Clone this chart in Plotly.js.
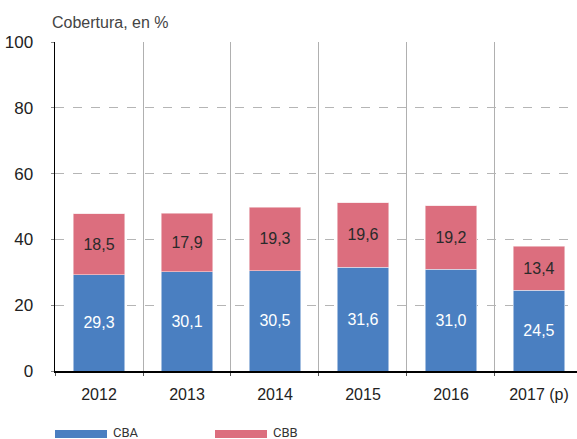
<!DOCTYPE html>
<html><head><meta charset="utf-8">
<script src="https://cdn.plot.ly/plotly-3.0.1.min.js"></script>
<style>html,body{margin:0;padding:0;background:#fff}</style>
</head><body><div id="chart" style="width:577px;height:439px"></div>
<script>
const categories = ["2012","2013","2014","2015","2016","2017 (p)"];
const cba = [29.3, 30.1, 30.5, 31.6, 31.0, 24.5];
const cbb = [18.5, 17.9, 19.3, 19.6, 19.2, 13.4];
const seriesNames = ["CBA","CBB"];
const yTicks = [0,20,40,60,80,100];

const blue = "#4a7fc1", pink = "#dc6e7e";
const font = "Liberation Sans, Arial, sans-serif";
const narrow = "Liberation Sans Narrow, Roboto, Liberation Sans, sans-serif";

const traces = [
  {type:"bar", name:seriesNames[0], x:categories, y:cba, marker:{color:blue, line:{color:"#dfe8f5", width:0.6}},
   texttemplate:"%{y:.1f}", textposition:"inside", insidetextanchor:"middle",
   textfont:{color:"#ffffff", size:16, family:font}, hoverinfo:"skip"},
  {type:"bar", name:seriesNames[1], x:categories, y:cbb, marker:{color:pink, line:{color:"#f5dde1", width:0.6}},
   texttemplate:"%{y:.1f}", textposition:"inside", insidetextanchor:"middle",
   textfont:{color:"#2a2a2a", size:16, family:font}, hoverinfo:"skip"}
];

const legY = -0.1915, legH = 0.0125;
const layout = {
  width:577, height:439,
  margin:{l:55, r:0, t:42, b:68},
  barmode:"stack", bargap:0.415,
  separators:",.",
  showlegend:false,
  paper_bgcolor:"#fff", plot_bgcolor:"#fff",
  font:{family:font, color:"#222", size:16},
  title:{text:"Cobertura, en %", x:52/577, xanchor:"left", xref:"container", y:1-22/439, yref:"container", yanchor:"middle",
         font:{size:16, color:"#444", family:font}},
  xaxis:{type:"category", range:[-0.5, 5.432], tickson:"boundaries", showgrid:true, gridcolor:"#b0b0b0", gridwidth:1,
         showline:true, linecolor:"#000", linewidth:1.5, ticks:"outside", ticklen:3, tickcolor:"#555",
         tickfont:{size:16, color:"#222"}, ticklabelstandoff:8, zeroline:false, fixedrange:true},
  yaxis:{range:[0,100], tickvals:yTicks, showgrid:true, gridcolor:"#b5b5b5", griddash:"dash", gridwidth:1,
         showline:true, linecolor:"#000", linewidth:1.5, ticks:"outside", ticklen:3, tickcolor:"#888",
         tickfont:{size:17, color:"#222"}, ticklabelstandoff:14, zeroline:false, fixedrange:true},
  shapes:[
    {type:"rect", xref:"paper", yref:"paper", x0:0, x1:52/522, y0:legY-legH, y1:legY+legH, fillcolor:blue, line:{width:0}},
    {type:"rect", xref:"paper", yref:"paper", x0:160/522, x1:212/522, y0:legY-legH, y1:legY+legH, fillcolor:pink, line:{width:0}}
  ],
  annotations:[
    {xref:"paper", yref:"paper", x:56/522, y:legY+0.004, xanchor:"left", yanchor:"middle", text:seriesNames[0], showarrow:false,
     font:{size:13, color:"#333", family:narrow}},
    {xref:"paper", yref:"paper", x:216/522, y:legY+0.004, xanchor:"left", yanchor:"middle", text:seriesNames[1], showarrow:false,
     font:{size:13, color:"#333", family:narrow}}
  ]
};
Plotly.newPlot("chart", traces, layout, {displayModeBar:false, staticPlot:true});
</script></body></html>
